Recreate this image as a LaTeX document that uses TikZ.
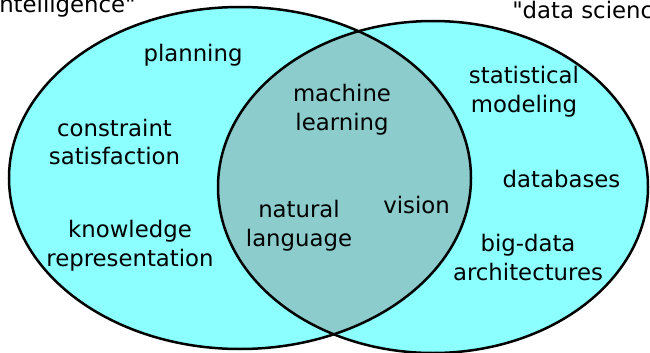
\documentclass[tikz,border=0pt]{standalone}
\usepackage{fontspec}
\setmainfont{DejaVu Sans}[Ligatures=TeXOff]
\definecolor{VennCyan}{HTML}{8CFFFF}
\definecolor{VennTeal}{HTML}{8CCCCC}
\usetikzlibrary{positioning}

\begin{document}
\begin{tikzpicture}[x=1pt, y=-1pt, line width=2.5pt,
    font=\fontsize{22.8}{28.8}\selectfont,
    topic/.style={align=center, inner sep=0pt},
    heading/.style={inner sep=0pt, anchor=base west}]
  \useasboundingbox (0,0) rectangle (650,353);
  % the two sets
  \fill[VennCyan] (240,178) ellipse [x radius=231, y radius=171];
  \fill[VennCyan] (433,187) ellipse [x radius=215, y radius=166];
  \begin{scope}
    \clip (240,178) ellipse [x radius=231, y radius=171];
    \fill[VennTeal] (433,187) ellipse [x radius=215, y radius=166];
  \end{scope}
  \draw (240,178) ellipse [x radius=231, y radius=171];
  \draw (433,187) ellipse [x radius=215, y radius=166];

  % set names (run off the page)
  \node[heading] (ai) at (-2,13) {ntelligence"};
  \node[heading] (ds) at (511,19) {"data scienc};

  % left only
  \node[topic] (plan) at (193,55) {planning};
  \node[topic] (csp) at (114.5,142) {constraint\\satisfaction};
  \node[topic] (kr) at (130,245.5) {knowledge\\representation};
  % shared
  \node[topic] (ml) at (342,110) {machine\\learning};
  \node[topic] (nl) at (299,225.5) {natural\\language};
  \node[topic] (cv) at (416.5,205) {vision};
  % right only
  \node[topic] (stat) at (524,92) {statistical\\modeling};
  \node[topic] (db) at (561.5,179) {databases};
  \node[topic] (big) at (528,257.5) {big-data\\architectures};
\end{tikzpicture}
\end{document}
